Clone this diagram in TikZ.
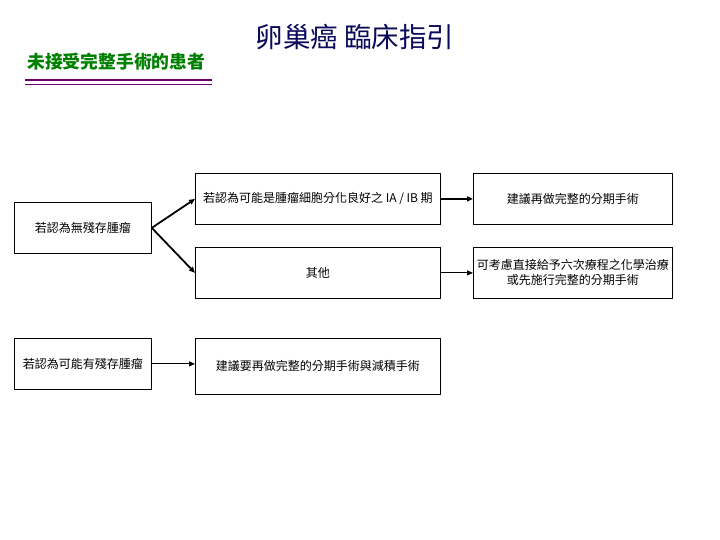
\documentclass[tikz,border=0pt]{standalone}
\usepackage{fontspec}
\newfontfamily\cjk{Noto Sans CJK TC}
\usetikzlibrary{arrows.meta}
\definecolor{titleblue}{RGB}{10,10,90}
\definecolor{subgreen}{RGB}{0,128,0}
\definecolor{rulepurple}{RGB}{110,0,110}
\tikzset{
  flowbox/.style={draw=black, line width=0.8pt, rectangle, anchor=north west, inner sep=0pt, align=center, font=\cjk\fontsize{12}{15}\selectfont},
  flowarrow/.style={-{Triangle[length=6pt,width=5pt]}, line width=0.9pt},
  thickarrow/.style={-{Triangle[length=6pt,width=5pt]}, line width=1.8pt},
}
\begin{document}
\begin{tikzpicture}[x=1pt,y=-1pt]
\useasboundingbox[fill=white] (0,0) rectangle (720,540);
\node[font=\cjk\fontsize{27.5}{30}\selectfont, text=titleblue] (title) at (355,37) {卵巢癌 臨床指引};
\node[font=\cjk\bfseries\fontsize{17.8}{20}\selectfont, text=subgreen, anchor=west, inner sep=0pt] (sub) at (27,62) {未接受完整手術的患者};
\coordinate (r1a) at (25,80); \coordinate (r1b) at (212,80);
\coordinate (r2a) at (25,84.3); \coordinate (r2b) at (212,84.3);
\draw[rulepurple, line width=1.5pt] (r1a) -- (r1b);
\draw[rulepurple, line width=1.5pt] (r2a) -- (r2b);

\node[flowbox, minimum width=137pt, minimum height=51pt] (A) at (14,202) {若認為無殘存腫瘤};
\node[flowbox, minimum width=245pt, minimum height=51pt] (B) at (195,173) {若認為可能是腫瘤細胞分化良好之 IA / IB 期};
\node[flowbox, minimum width=245pt, minimum height=51pt] (C) at (195,247) {其他};
\node[flowbox, minimum width=199pt, minimum height=51pt] (D) at (473,173) {建議再做完整的分期手術};
\node[flowbox, minimum width=199pt, minimum height=51pt] (E) at (473,247) {可考慮直接給予六次療程之化學治療\\或先施行完整的分期手術};
\node[flowbox, minimum width=137pt, minimum height=51pt] (F) at (14,338) {若認為可能有殘存腫瘤};
\node[flowbox, minimum width=245pt, minimum height=56pt] (G) at (195,338) {建議要再做完整的分期手術與減積手術};

\draw[thickarrow] (A.east) -- (B.west);
\draw[thickarrow] (A.east) -- (C.west);
\draw[thickarrow] (B.east) -- (D.west);
\draw[flowarrow] (C.east) -- (E.west);
\draw[flowarrow] (F.east) -- (F.east -| G.west);
\end{tikzpicture}
\end{document}
